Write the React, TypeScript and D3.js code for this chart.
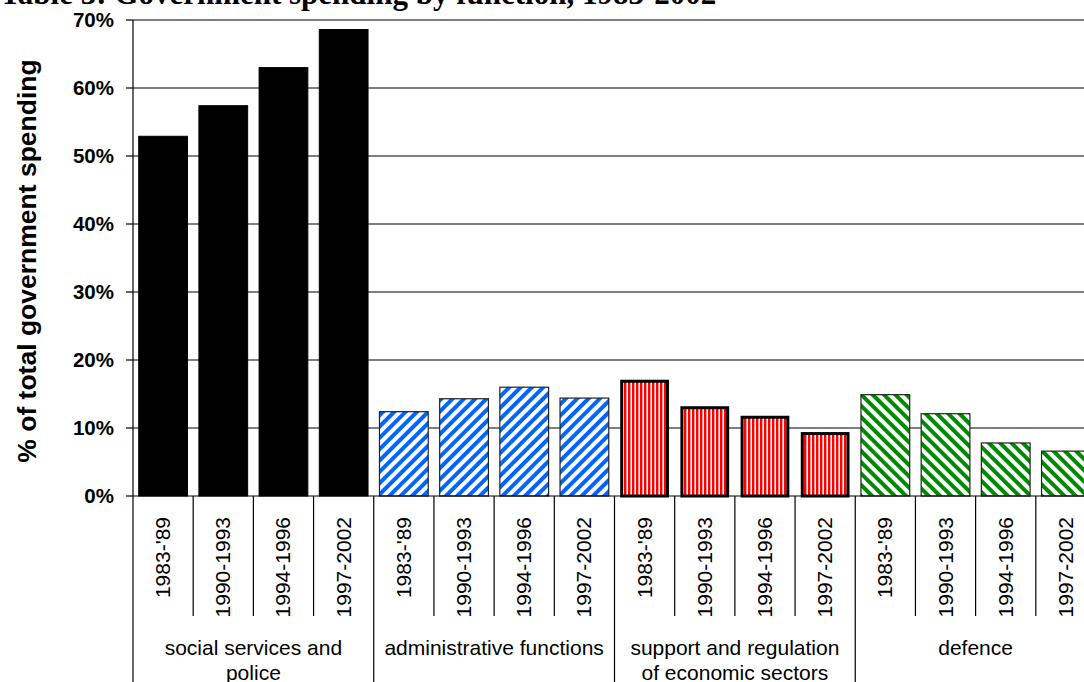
import React from "react";
import * as d3 from "d3";

// Periods shown under every function group
const periods = ["1983-'89", "1990-1993", "1994-1996", "1997-2002"];

// Function groups (label lines) in drawing order
const groupLabels: string[][] = [
  ["social services and", "police"],
  ["administrative functions"],
  ["support and regulation", "of economic sectors"],
  ["defence"],
];

// Share of total government spending (%) per period
const socialValues = [52.9, 57.4, 63.0, 68.6];
const adminValues = [12.4, 14.3, 16.0, 14.4];
const economicValues = [17.1, 13.2, 11.8, 9.4];
const defenceValues = [14.9, 12.1, 7.8, 6.6];

const yTicks = [0, 10, 20, 30, 40, 50, 60, 70];

const titleText = "Table 3: Government spending by function, 1983-2002";
const yTitle = "% of total government spending";

const W = 1084;
const H = 682;
const left = 133;
const right = 1096;
const top = 20;
const bottom = 496;

const groupStyles = [
  { fill: "#000000", stroke: "#000000", strokeWidth: 1 },
  { fill: "url(#blueDiag)", stroke: "#222222", strokeWidth: 1.2 },
  { fill: "url(#redVert)", stroke: "#000000", strokeWidth: 3 },
  { fill: "url(#greenDiag)", stroke: "#222222", strokeWidth: 1.2 },
];

export default function App() {
  const series = [socialValues, adminValues, economicValues, defenceValues];
  const bars = series.flatMap((vals, g) =>
    vals.map((v, i) => ({ g, i, idx: g * periods.length + i, value: v }))
  );

  const x = d3
    .scaleBand<number>()
    .domain(d3.range(bars.length))
    .range([left, right])
    .paddingInner(0.19)
    .paddingOuter(0.095);
  const step = x.step();
  const slotStart = (k: number) => left + k * step;

  const y = d3.scaleLinear().domain([0, 70]).range([bottom, top]);

  const sans = "'Liberation Sans', Arial, sans-serif";

  return (
    <svg
      width={W}
      height={H}
      style={{ position: "absolute", left: 0, top: 0, background: "#fff" }}
    >
      <defs>
        <pattern
          id="blueDiag"
          patternUnits="userSpaceOnUse"
          width={8}
          height={8}
          patternTransform="rotate(45)"
        >
          <rect width={8} height={8} fill="#ffffff" />
          <rect width={4} height={8} fill="#0066ff" />
        </pattern>
        <pattern
          id="greenDiag"
          patternUnits="userSpaceOnUse"
          width={8}
          height={8}
          patternTransform="rotate(-45)"
        >
          <rect width={8} height={8} fill="#ffffff" />
          <rect width={4} height={8} fill="#008a00" />
        </pattern>
        <pattern id="redVert" patternUnits="userSpaceOnUse" width={4} height={4}>
          <rect width={4} height={4} fill="#ffffff" />
          <rect width={2.4} height={4} fill="#ff0000" />
        </pattern>
      </defs>

      {/* Title, partly above the frame */}
      <text
        x={0}
        y={3.5}
        fontFamily="'Liberation Serif', 'Times New Roman', serif"
        fontWeight="bold"
        fontSize={31}
        fill="#000"
      >
        {titleText}
      </text>

      {/* Horizontal gridlines */}
      {yTicks
        .filter((t) => t > 0)
        .map((t) => (
          <line
            key={"g" + t}
            x1={left}
            x2={right}
            y1={y(t)}
            y2={y(t)}
            stroke="#000"
            strokeWidth={1.2}
          />
        ))}

      {/* Bars */}
      {bars.map((b) => {
        const st = groupStyles[b.g];
        const x0 = x(b.idx)!;
        const bw = x.bandwidth();
        const inset = st.strokeWidth > 2 ? st.strokeWidth / 2 : 0;
        return (
          <rect
            key={"b" + b.idx}
            x={x0 + inset}
            y={y(b.value) + inset}
            width={bw - inset * 2}
            height={y(0) - y(b.value) - inset}
            fill={st.fill}
            stroke={st.stroke}
            strokeWidth={st.strokeWidth}
          />
        );
      })}

      {/* Y axis */}
      <line x1={left} x2={left} y1={top} y2={H + 10} stroke="#000" strokeWidth={1.2} />
      {yTicks.map((t) => (
        <g key={"t" + t}>
          <line x1={left - 7} x2={left} y1={y(t)} y2={y(t)} stroke="#000" strokeWidth={1.2} />
          <text
            x={114}
            y={y(t)}
            dy="0.36em"
            textAnchor="end"
            fontFamily={sans}
            fontWeight="bold"
            fontSize={20.5}
            fill="#000"
          >
            {t}%
          </text>
        </g>
      ))}
      <text
        transform={`translate(36, ${(top + bottom) / 2 + 3}) rotate(-90)`}
        textAnchor="middle"
        fontFamily={sans}
        fontWeight="bold"
        fontSize={26.5}
        fill="#000"
      >
        {yTitle}
      </text>

      {/* X axis baseline */}
      <line x1={left} x2={right} y1={bottom} y2={bottom} stroke="#000" strokeWidth={1.2} />

      {/* Category dividers */}
      {d3.range(1, bars.length + 1).map((k) => {
        const isGroup = k % periods.length === 0;
        const xx = slotStart(k);
        return (
          <line
            key={"d" + k}
            x1={xx}
            x2={xx}
            y1={bottom}
            y2={isGroup ? H + 10 : 616}
            stroke="#000"
            strokeWidth={1.2}
          />
        );
      })}

      {/* Period labels */}
      {bars.map((b) => {
        const cx = slotStart(b.idx) + step / 2 + 7;
        return (
          <text
            key={"p" + b.idx}
            transform={`translate(${cx}, 517) rotate(-90)`}
            textAnchor="end"
            fontFamily={sans}
            fontSize={21}
            fill="#000"
          >
            {periods[b.i]}
          </text>
        );
      })}

      {/* Group labels */}
      {groupLabels.map((lines, g) => {
        const cx = slotStart(g * periods.length) + (step * periods.length) / 2;
        return (
          <text
            key={"gl" + g}
            x={cx}
            y={655}
            textAnchor="middle"
            fontFamily={sans}
            fontSize={21}
            fill="#000"
          >
            {lines.map((ln, j) => (
              <tspan key={j} x={cx} dy={j === 0 ? 0 : 25}>
                {ln}
              </tspan>
            ))}
          </text>
        );
      })}
    </svg>
  );
}
